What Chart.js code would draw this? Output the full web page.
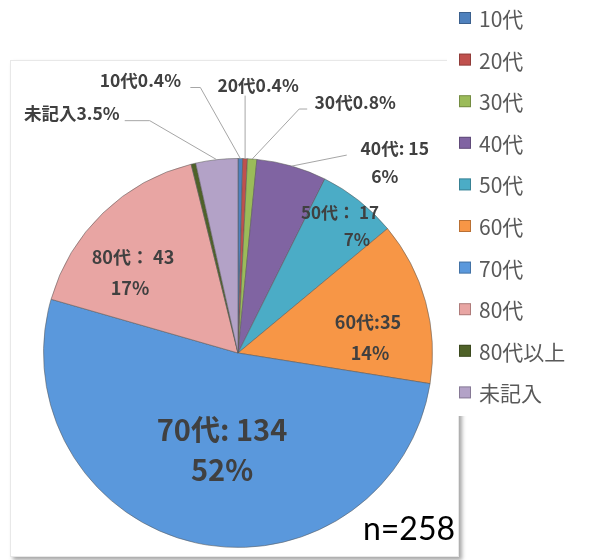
<!doctype html>
<html lang="ja">
<head>
<meta charset="UTF-8">
<title>年代別</title>
<script src="https://cdn.jsdelivr.net/npm/chart.js@4.4.1/dist/chart.umd.min.js"></script>
<style>
  html, body { margin: 0; padding: 0; background: #fff; }
  #wrap { width: 593px; height: 560px; }
</style>
</head>
<body>
<div id="wrap"><canvas id="pie" width="593" height="560"></canvas></div>
<script>
// Data-----
const labels = ['10代', '20代', '30代', '40代', '50代', '60代', '70代', '80代', '80代以上', '未記入'];
const counts = [1, 1, 2, 15, 17, 35, 134, 43, 1, 9];
const colors = ['#4F81BD', '#C0504D', '#9BBB59', '#8064A2', '#4BACC6', '#F79646', '#5A98DC', '#E8A5A3', '#4F6228', '#B3A2C7'];
const sampleLabel = 'n=258';
// Data-----

const total = counts.reduce((a, b) => a + b, 0);
const FONT = '"Noto Sans CJK JP", "Noto Sans", sans-serif';
const TEXT = '#404040';

// label layout: 'out' = name+% with leader line (offsets from outer mid point of the slice)
// 'in' = two-line label (offsets from pie centre)
const labelLayout = {
  '10代':  { type: 'out', text: [-100, -78], line: [[-40, -71], [-50, -71]] },
  '20代':  { type: 'out', text: [13, -73], line: [[0, -63]] },
  '30代':  { type: 'out', text: [103, -57], line: [[47, -50], [55, -50]] },
  '40代':  { type: 'two', sep: ': ', t1: [103, -18], t2: [93, 10], line: [[55, -11]] },
  '50代':  { type: 'in', sep: '： ', t1: [102, -140], t2: [119, -113], size: 17 },
  '60代':  { type: 'in', sep: ':', t1: [130, -31], t2: [132, 0], size: 18 },
  '70代':  { type: 'in', sep: ': ', t1: [-16, 77], t2: [-16, 117], size: 29 },
  '80代':  { type: 'in', sep: '： ', t1: [-105, -96], t2: [-108, -65], size: 18 },
  '未記入': { type: 'out', text: [-145, -46], line: [[-67, -39], [-92, -39]] }
};

function pct(v, digits) {
  return (v / total * 100).toFixed(digits) + '%';
}

const decor = {
  id: 'decor',
  beforeDraw(chart) {
    const ctx = chart.ctx;
    ctx.save();
    ctx.fillStyle = '#fff';
    ctx.fillRect(0, 0, chart.width, chart.height);
    // framed plot box with soft shadow
    ctx.shadowColor = 'rgba(0,0,0,0.35)';
    ctx.shadowBlur = 4;
    ctx.shadowOffsetX = 3;
    ctx.shadowOffsetY = 3;
    ctx.fillStyle = '#fff';
    ctx.fillRect(10, 60, 449, 497);
    ctx.shadowColor = 'transparent';
    ctx.strokeStyle = '#e8e8e8';
    ctx.lineWidth = 1;
    ctx.strokeRect(10.5, 60.5, 448, 496);
    // legend panel on top
    ctx.fillStyle = '#fff';
    ctx.fillRect(447, 0, chart.width - 447, 416);
    ctx.restore();
  },
  afterDatasetsDraw(chart) {
    const ctx = chart.ctx;
    const meta = chart.getDatasetMeta(0);
    ctx.save();
    ctx.textAlign = 'center';
    ctx.textBaseline = 'middle';
    meta.data.forEach((arc, i) => {
      const lay = labelLayout[labels[i]];
      if (!lay) return;
      const p = arc.getProps(['x', 'y', 'startAngle', 'endAngle', 'outerRadius'], true);
      const mid = (p.startAngle + p.endAngle) / 2;
      const ox = p.x + Math.cos(mid) * p.outerRadius;
      const oy = p.y + Math.sin(mid) * p.outerRadius;
      if (lay.line) {
        ctx.strokeStyle = '#a6a6a6';
        ctx.lineWidth = 1;
        ctx.beginPath();
        ctx.moveTo(ox, oy);
        lay.line.forEach(q => ctx.lineTo(ox + q[0], oy + q[1]));
        ctx.stroke();
      }
      ctx.fillStyle = TEXT;
      if (lay.type === 'out') {
        ctx.font = 'bold 17.5px ' + FONT;
        ctx.fillText(labels[i] + pct(counts[i], 1), ox + lay.text[0], oy + lay.text[1]);
      } else if (lay.type === 'two') {
        ctx.font = 'bold 17.5px ' + FONT;
        ctx.fillText(labels[i] + lay.sep + counts[i], ox + lay.t1[0], oy + lay.t1[1]);
        ctx.fillText(pct(counts[i], 0), ox + lay.t2[0], oy + lay.t2[1]);
      } else {
        ctx.font = 'bold ' + lay.size + 'px ' + FONT;
        ctx.fillText(labels[i] + lay.sep + counts[i], p.x + lay.t1[0], p.y + lay.t1[1]);
        ctx.fillText(pct(counts[i], 0), p.x + lay.t2[0], p.y + lay.t2[1]);
      }
    });

    // legend
    ctx.textAlign = 'left';
    ctx.font = '21px ' + FONT;
    labels.forEach((lab, i) => {
      const y = 18 + i * 41.6;
      ctx.fillStyle = colors[i];
      ctx.fillRect(459, y - 6, 12, 12);
      ctx.strokeStyle = 'rgba(0,0,0,0.25)';
      ctx.strokeRect(459.5, y - 5.5, 11, 11);
      ctx.fillStyle = '#595959';
      ctx.fillText(lab, 479, y + 1);
    });

    // sample size
    ctx.fillStyle = '#000';
    ctx.font = '32px Lato, "Open Sans", sans-serif';
    ctx.textAlign = 'right';
    ctx.textBaseline = 'alphabetic';
    ctx.fillText(sampleLabel, 455, 540);
    ctx.restore();
  }
};

const config = {
  type: 'pie',
  data: {
    labels: labels,
    datasets: [{
      data: counts,
      backgroundColor: colors,
      borderColor: 'rgba(90,90,90,0.55)',
      borderWidth: 1
    }]
  },
  options: {
    responsive: false,
    animation: false,
    layout: {
      padding: { left: 43, right: 160, top: 158, bottom: 12 }
    },
    plugins: {
      legend: { display: false },
      tooltip: { enabled: false }
    }
  },
  plugins: [decor]
};

const pieChart = new Chart(document.getElementById('pie'), config);
</script>
</body>
</html>
